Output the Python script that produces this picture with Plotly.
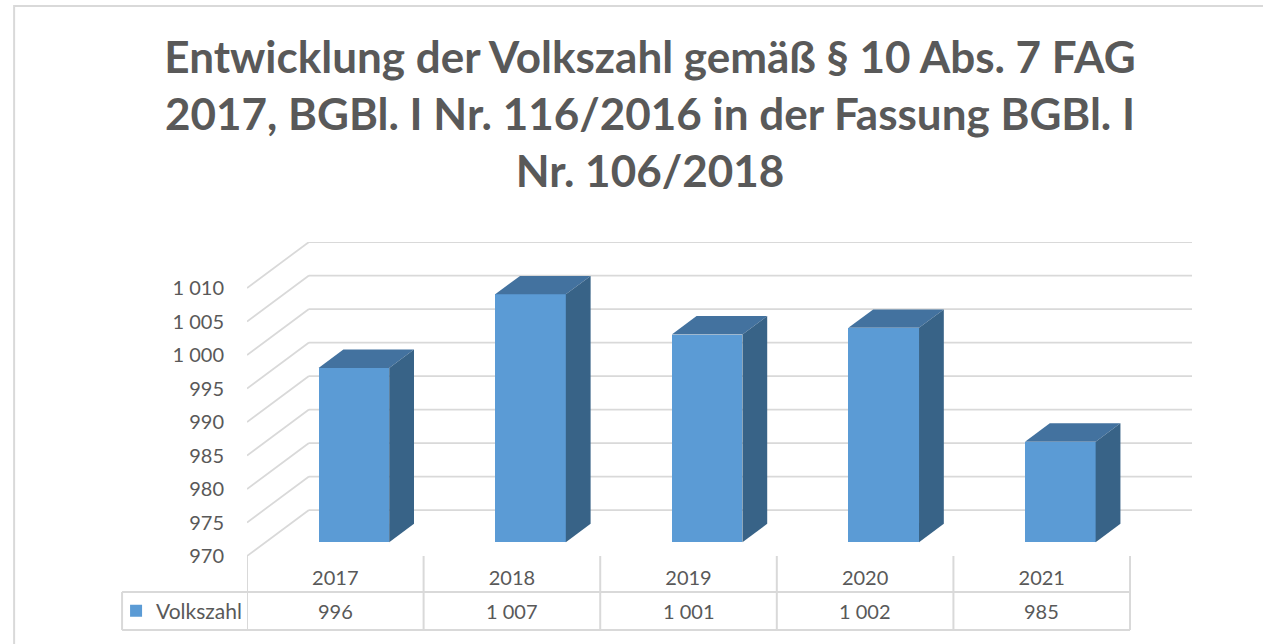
import plotly.graph_objects as go

# ---------------- data ----------------
years = ["2017", "2018", "2019", "2020", "2021"]
volkszahl = [996, 1007, 1001, 1002, 985]
y_ticks = [970, 975, 980, 985, 990, 995, 1000, 1005, 1010]
series_name = "Volkszahl"
title_lines = [
    "Entwicklung der Volkszahl gemäß § 10 Abs. 7 FAG",
    "2017, BGBl. I Nr. 116/2016 in der Fassung BGBl. I",
    "Nr. 106/2018",
]

# ---------------- styling / geometry ----------------
W, H = 1263, 644
FONT = "Lato"
TXT = "#595959"
GRID = "#d9d9d9"
C_FRONT, C_TOP, C_SIDE = "#5b9bd5", "#43729f", "#386387"

cat_px = 176.7          # pixel width of one category (front plane)
unit_px = 6.7           # pixels per value unit
depth_dx_px, depth_dy_px = 62, 46   # oblique offset of the back wall
plot_left_px, plot_bottom_px = 247, 556

ymin, ymax = y_ticks[0], y_ticks[-1]
n = len(years)
dxu = depth_dx_px / cat_px      # depth offset in x data units
dyu = depth_dy_px / unit_px     # depth offset in y data units
x_range = [-0.5, n - 0.5 + dxu]
y_range = [ymin, ymax + dyu]
plot_w = (x_range[1] - x_range[0]) * cat_px
plot_h = (y_range[1] - y_range[0]) * unit_px
m_l = plot_left_px
m_b = H - plot_bottom_px
m_t = plot_bottom_px - plot_h
m_r = W - plot_left_px - plot_w


def px_x(p):  # canvas px -> paper x
    return (p - plot_left_px) / plot_w


def px_y(p):  # canvas px -> paper y
    return (plot_bottom_px - p) / plot_h


def fmt(v):
    return f"{v:,}".replace(",", " ")


bar_d0, bar_d1 = 0.30, 0.70   # bar depth span (fraction of floor depth)
bar_w = 0.40

fig = go.Figure()

# front faces (real bar trace)
fig.add_trace(go.Bar(
    x=[i + bar_d0 * dxu for i in range(n)],
    y=[v - ymin for v in volkszahl],
    base=[ymin + bar_d0 * dyu] * n,
    width=bar_w,
    marker=dict(color=C_FRONT, line=dict(width=0)),
    name=series_name,
    showlegend=True,
    hoverinfo="skip",
))

# top and side faces computed from the same values
dd = bar_d1 - bar_d0
for i, v in enumerate(volkszahl):
    x0 = i + bar_d0 * dxu - bar_w / 2
    x1 = x0 + bar_w
    yb = ymin + bar_d0 * dyu
    yt = v + bar_d0 * dyu
    ox, oy = dd * dxu, dd * dyu
    fig.add_trace(go.Scatter(
        x=[x0, x1, x1 + ox, x0 + ox, x0], y=[yt, yt, yt + oy, yt + oy, yt],
        fill="toself", fillcolor=C_TOP, mode="lines", line=dict(width=0, color=C_TOP),
        showlegend=False, hoverinfo="skip"))
    fig.add_trace(go.Scatter(
        x=[x1, x1 + ox, x1 + ox, x1, x1], y=[yb, yb + oy, yt + oy, yt, yb],
        fill="toself", fillcolor=C_SIDE, mode="lines", line=dict(width=0, color=C_SIDE),
        showlegend=False, hoverinfo="skip"))

shapes = []
# back wall gridlines and side-wall diagonals
for v in y_ticks:
    shapes.append(dict(type="line", xref="x", yref="y", layer="below",
                       x0=-0.5 + dxu, x1=n - 0.5 + dxu, y0=v + dyu, y1=v + dyu,
                       line=dict(color=GRID, width=1.75)))
    shapes.append(dict(type="line", xref="x", yref="y", layer="below",
                       x0=-0.5, x1=-0.5 + dxu, y0=v, y1=v + dyu,
                       line=dict(color=GRID, width=1.75)))

# data table lines
row_top, row_bot = 592, 630
left_cell_px = 122
shapes.append(dict(type="line", xref="paper", yref="paper",
                   x0=px_x(left_cell_px), x1=px_x(plot_left_px + n * cat_px),
                   y0=px_y(row_top), y1=px_y(row_top), line=dict(color=GRID, width=2)))
shapes.append(dict(type="line", xref="paper", yref="paper",
                   x0=px_x(left_cell_px), x1=px_x(plot_left_px + n * cat_px),
                   y0=px_y(row_bot), y1=px_y(row_bot), line=dict(color=GRID, width=2)))
shapes.append(dict(type="line", xref="paper", yref="paper",
                   x0=px_x(left_cell_px), x1=px_x(left_cell_px),
                   y0=px_y(row_top), y1=px_y(row_bot), line=dict(color=GRID, width=2)))
for k in range(n + 1):
    shapes.append(dict(type="line", xref="x", yref="paper",
                       x0=k - 0.5, x1=k - 0.5, y0=0, y1=px_y(row_bot),
                       line=dict(color=GRID, width=2)))

# chart border
shapes.append(dict(type="rect", xref="paper", yref="paper",
                   x0=px_x(14), x1=px_x(W + 20), y0=px_y(H + 20), y1=px_y(6),
                   line=dict(color=GRID, width=2), fillcolor="rgba(0,0,0,0)", layer="below"))

annotations = []
for i, v in enumerate(volkszahl):
    annotations.append(dict(x=i, y=px_y((row_top + row_bot) / 2), xref="x", yref="paper",
                            text=fmt(v), showarrow=False, xanchor="center", yanchor="middle",
                            font=dict(family=FONT, size=20, color=TXT)))

title_text = "<br>".join(title_lines)

fig.update_layout(
    width=W, height=H,
    margin=dict(l=m_l, r=m_r, t=m_t, b=m_b, pad=0),
    paper_bgcolor="white", plot_bgcolor="rgba(0,0,0,0)",
    title=dict(text=f"<b>{title_text}</b>", x=650 / W, xanchor="center", xref="container",
               y=1 - 73 / H, yanchor="top", yref="container",
               font=dict(family=FONT, size=44, color=TXT)),
    font=dict(family=FONT, size=20, color=TXT),
    showlegend=True,
    legend=dict(x=px_x(116), y=px_y((row_top + row_bot) / 2), xanchor="left", yanchor="middle",
                bgcolor="rgba(0,0,0,0)", borderwidth=0, font=dict(family=FONT, size=21, color=TXT),
                itemwidth=30, tracegroupgap=0),
    xaxis=dict(range=x_range, showgrid=False, zeroline=False, showline=False,
               tickmode="array", tickvals=list(range(n)), ticktext=years, ticks="",
               ticklabelstandoff=8, tickfont=dict(family=FONT, size=20, color=TXT),
               fixedrange=True),
    yaxis=dict(range=y_range, showgrid=False, zeroline=False, showline=False,
               tickmode="array", tickvals=y_ticks, ticktext=[fmt(v) for v in y_ticks], ticks="",
               ticklabelstandoff=22, tickfont=dict(family=FONT, size=20, color=TXT),
               fixedrange=True),
    shapes=shapes,
    annotations=annotations,
    bargap=0,
)

fig.write_html("out.html")
